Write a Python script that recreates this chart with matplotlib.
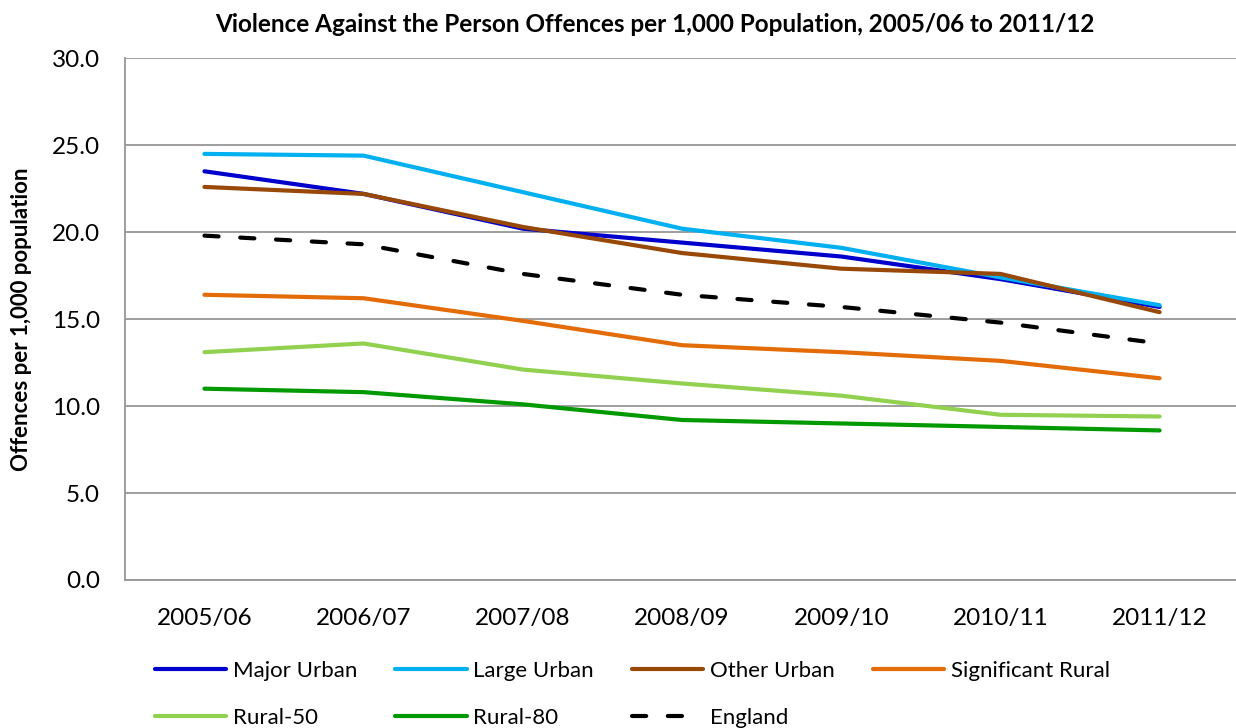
import matplotlib
matplotlib.use("Agg")
import matplotlib.pyplot as plt

# data
years = ["2005/06", "2006/07", "2007/08", "2008/09", "2009/10", "2010/11", "2011/12"]
major_urban = [23.5, 22.2, 20.2, 19.4, 18.6, 17.3, 15.7]
large_urban = [24.5, 24.4, 22.3, 20.2, 19.1, 17.4, 15.8]
other_urban = [22.6, 22.2, 20.3, 18.8, 17.9, 17.6, 15.4]
significant_rural = [16.4, 16.2, 14.9, 13.5, 13.1, 12.6, 11.6]
rural_50 = [13.1, 13.6, 12.1, 11.3, 10.6, 9.5, 9.4]
rural_80 = [11.0, 10.8, 10.1, 9.2, 9.0, 8.8, 8.6]
england = [19.8, 19.3, 17.6, 16.4, 15.7, 14.8, 13.6]

series = [
    ("Major Urban", major_urban, "#0000cc", "-"),
    ("Large Urban", large_urban, "#00b0f0", "-"),
    ("Other Urban", other_urban, "#984807", "-"),
    ("Significant Rural", significant_rural, "#e36c09", "-"),
    ("Rural-50", rural_50, "#92d050", "-"),
    ("Rural-80", rural_80, "#009900", "-"),
    ("England", england, "black", "--"),
]

plt.rcParams['font.family'] = ['Lato', 'DejaVu Sans']

fig = plt.figure(figsize=(12.36, 7.28), dpi=100)
ax = fig.add_axes([0.101, 0.2033, 0.899, 0.7167])

x = list(range(len(years)))
lines = {}
for name, vals, color, ls in series:
    line, = ax.plot(x, vals, color=color, linestyle=ls, linewidth=3,
                    solid_capstyle="round", dash_capstyle="round", label=name)
    if ls == "--":
        line.set_dashes((3.4, 5.2))
    lines[name] = line

ax.set_ylim(0, 30)
ax.set_xlim(-0.5, 6.48)
ax.set_yticks([0, 5, 10, 15, 20, 25, 30])
ax.set_yticklabels(["%.1f" % v for v in [0, 5, 10, 15, 20, 25, 30]])
ax.set_xticks(x)
ax.set_xticklabels(years)
ax.tick_params(axis="y", length=0, pad=18, labelsize=17.5)
ax.tick_params(axis="x", length=0, pad=20, labelsize=17.5)

ax.grid(axis="y", color="#969696", linewidth=1.3)
ax.set_axisbelow(True)
for side in ["top", "right"]:
    ax.spines[side].set_visible(False)
for side in ["left", "bottom"]:
    ax.spines[side].set_color("#969696")
    ax.spines[side].set_linewidth(1.3)

ax.set_ylabel("Offences per 1,000 population", fontsize=16, fontweight="bold", labelpad=14)
fig.text(0.53, 0.967, "Violence Against the Person Offences per 1,000 Population, 2005/06 to 2011/12",
         ha="center", va="center", fontsize=17.5, fontweight="bold")

# legend fills column by column, so order it to read row by row
order = ["Major Urban", "Rural-50", "Large Urban", "Rural-80",
         "Other Urban", "England", "Significant Rural"]
fig.legend([lines[n] for n in order], order, loc="upper left",
           bbox_to_anchor=(0.1255, 0.092), ncol=4, frameon=False,
           fontsize=16, handlelength=3.2, handletextpad=0.3, columnspacing=1.72,
           labelspacing=1.22, borderaxespad=0, borderpad=0)

fig.savefig("out.png", dpi=100)
